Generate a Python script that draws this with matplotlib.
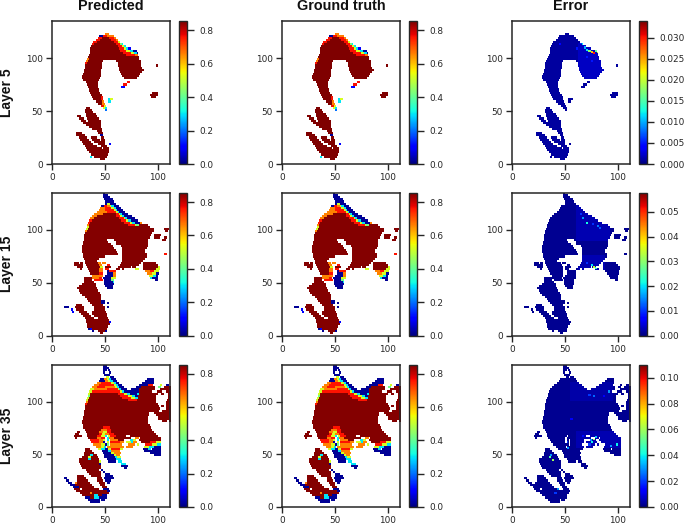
import numpy as np
import matplotlib
matplotlib.use("Agg")
import matplotlib.pyplot as plt

COLUMN_TITLES = ["Predicted", "Ground truth", "Error"]
ROW_TITLES = ["Layer 5", "Layer 15", "Layer 35"]
GRID_WIDTH = 112
GRID_HEIGHT = 135
FIELD_MAX = [0.852, 0.856, 0.854]
ERROR_MAX = [0.0339, 0.0577, 0.110]
ERROR_TICKS = [[0, .005, .01, .015, .02, .025, .03], [0, .01, .02, .03, .04, .05], [0, .02, .04, .06, .08, .10]]
ERROR_LABELS = [["0.000", "0.005", "0.010", "0.015", "0.020", "0.025", "0.030"],
                ["0.00", "0.01", "0.02", "0.03", "0.04", "0.05"],
                ["0.00", "0.02", "0.04", "0.06", "0.08", "0.10"]]
LEVELS = dict(d=0.85, r=0.76, o=0.66, y=0.52, g=0.42, c=0.30, l=0.2, m=0.1, b=0.02)

# Each row: lower y of a two-unit band -> "x0-x1 level" runs
LAYER5 = {
122: "50-54o", 120: "44-48b 48-52r 52-58o", 118: "43-47r 47-54d 54-58r 58-60o", 116: "41-45r 45-56d 56-60r 60-62o",
114: "39-42r 42-58d 58-62r 62-64y", 112: "38-40r 40-60d 60-64r 64-66g 66-67c", 110: "37-62d 62-66r 66-68y 68-70c",
108: "36-63d 63-68r 68-70y 70-72c 72-74m", 106: "36-64d 64-70r 70-73y 73-76c 76-80b", 104: "36-67d 67-74r 74-77y 77-80c 80-81b",
102: "35-70d 70-78r 78-81o", 100: "34-82d", 98: "33-35o 35-82d", 96: "32-34o 34-48d 60-84d",
94: "31-33r 33-47d 62-84d", 92: "31-47d 62-84d 98-100d", 90: "31-47d 63-85d", 88: "30-46d 63-87d", 86: "30-46d 64-85d",
84: "29-46d 65-83d", 82: "28-46d 66-82d", 80: "28-45d 68-80d", 78: "29-44d", 76: "32-43d 71-73r", 74: "33-43d 67-71r",
72: "34-43d 65-69m", 70: "35-44d", 68: "35-44d", 66: "36-45d 94-100d", 64: "37-47d 92-100d", 62: "38-46d 46-48r 93-98d",
60: "39-46d 46-48r 53-55c 55-57y", 58: "41-47d 47-49o 53-56c", 56: "43-47d 47-50o", 54: "46-49r 49-51y", 52: "32-36d 48-50y 50-52c", 50: "31-38d 50-52l",
48: "31-39d", 46: "32-41d", 44: "24-27d 32-42d", 42: "25-30d 33-44d", 40: "27-32d 34-46d", 38: "29-35d 35-46d",
36: "32-46d", 34: "35-46d", 32: "38-47d", 30: "42-47d", 28: "23-28d 43-48d", 26: "23-31d 45-48b", 24: "25-33d 37-42d 46-49d",
22: "26-35d 38-45d 46-50d", 20: "28-37d 40-50d", 18: "29-39d 43-50d 54-56m", 16: "31-42d 46-52d", 14: "32-47d 48-54d", 12: "33-54d",
10: "35-54d", 8: "37-53d", 6: "36-38c 40-52d", 4: "45-50d",
}

LAYER15 = {
134: "48-50b", 132: "48-53b", 130: "48-55b", 128: "49-57b", 126: "50-58b", 124: "50-52b 52-55y 55-60b",
122: "46-49b 49-52r 52-55o 55-56y 56-58c 58-63b", 120: "45-50o 50-56r 56-58y 58-60c 60-65b", 118: "44-50o 50-58r 58-60y 60-61c 61-67b",
116: "42-52o 52-60r 60-62y 62-63c 63-69b", 114: "40-48o 48-60d 60-63r 63-64y 64-66c 66-72b", 112: "38-42o 42-60d 60-64r 64-66y 66-68c 68-75b",
110: "36-40o 40-63d 63-68r 68-69y 69-71c 71-78b", 108: "35-38r 38-65d 65-70r 70-72y 72-74c 74-81b", 106: "34-36r 36-68d 68-73r 73-75y 75-78c 78-83b 83-85o",
104: "33-35o 35-72d 72-78r 78-79y 79-82g 82-90d", 102: "33-35y 35-92d", 100: "32-34y 34-96d 105-110d", 98: "31-33o 33-96d 106-109d",
96: "31-94d", 94: "30-93d 96-103d", 92: "30-92d 96-102d 105-108d", 90: "30-52d 58-90d 104-107d", 88: "29-53d 60-90d", 86: "29-56d 60-90d",
84: "28-57d 65-90d", 82: "28-58d 66-89d", 80: "28-60d 66-88d", 78: "28-61d 66-88d", 76: "29-62d 66-89d 105-108r", 74: "29-50d 66-89d",
72: "30-44d 66-88d", 70: "31-42d 66-86d", 68: "21-25d 26-29d 31-43d 43-46o 47-51o 65-84d 86-98d", 66: "21-29d 32-44d 44-47o 52-55r 64-82d 86-100d",
64: "24-29d 33-45d 45-48y 50-56d 62-68d 68-74d 75-79d 86-100d 100-102y", 62: "26-28d 34-44d 44-48o 50-54r 60-64d 66-68d 78-82y 86-98d 98-102y",
60: "35-44d 44-48o 52-54b 54-60r 88-92o 92-96r 96-101y", 58: "36-44d 44-48r 52-57b 57-60o 89-94o 94-98y 98-101b",
56: "38-48o 50-57b 57-60o 91-95y 95-98c 98-100b", 54: "30-38d 38-44o 44-47r 48-56b 56-60y 92-94c 94-100b", 52: "30-38d 40-48r 49-56b 56-58g 97-100b", 50: "30-40d 49-57b 57-58c",
48: "28-38d 38-41d 49-58b", 46: "25-41d 50-57b", 44: "24-42d 52-57b", 42: "25-43d", 40: "26-45d", 38: "28-46d", 36: "31-46d",
34: "33-46d", 32: "34-46d 46-50b", 30: "36-46d 46-50b 52-54b", 28: "23-28d 38-48d", 26: "11-16b 22-30d 40-50d 52-54b",
24: "18-20m 23-30d 40-50d", 22: "19-21m 25-33d 38-51d", 20: "27-35d 38-52d", 18: "29-37d 40-52d", 16: "31-40d 43-53d",
14: "32-54d", 12: "32-54d 54-56m", 10: "33-55d", 8: "33-53d", 6: "34-36b 36-38m 38-52d", 4: "38-40b 43-50d 50-52b", 2: "45-48d",
}

LAYER35 = {
134: "48-51b", 132: "48-52b", 130: "48-54b", 128: "48-52b 53-55b", 126: "48-50b 54-56b", 124: "49-55b", 122: "51-54y 55-58b",
120: "45-49b 49-52o 52-54y 54-56c 56-60b 89-96b", 118: "44-50b 50-53o 53-55y 55-57c 57-61b 88-96b", 116: "42-46o 46-56r 56-58y 58-60c 60-63b 85-96b",
114: "40-44o 44-58r 58-60y 60-62c 62-66b 82-90b 90-95r 102-104y 107-110b", 112: "38-42o 42-50r 50-59o 59-61y 61-63c 63-68b 79-84b 84-97d 100-103g 105-112d",
110: "36-40y 40-52o 52-62r 62-63y 63-65c 65-71b 74-82b 82-97d 102-112d", 108: "35-38y 38-50r 50-64r 64-66y 66-68c 68-78b 78-82b 82-94d 99-104d 107-112d",
106: "34-36y 36-62d 62-68r 68-71y 71-73c 73-80b 80-82c 82-100d 103-105d 109-112d", 104: "34-36g 36-64d 64-72r 72-75y 75-78c 78-81b 81-98d 109-112d",
102: "33-35y 35-66d 66-74r 74-78y 78-81c 81-98d 109-112d", 100: "32-34y 34-72d 72-80r 80-98d 108-112d", 98: "32-34o 34-98d 107-112d", 96: "31-33r 33-100d 107-112d",
94: "31-101d 103-105d 107-112d", 92: "31-102d 107-112d", 90: "30-101d 104-112d", 88: "30-91d 96-112d", 86: "30-91d 98-112d", 84: "29-90d 100-112d",
82: "29-90d 100-112d", 80: "28-90d 104-108d 110-112d", 78: "28-90d", 76: "29-92d", 74: "29-48d 48-55r 55-93d", 72: "31-46d 46-52o 52-56r 56-94d",
70: "24-26d 32-44d 44-48o 48-52y 52-56r 56-96d", 68: "22-25d 33-44d 44-47r 47-50y 50-54o 54-58r 58-98d", 66: "21-28d 33-42d 42-46r 46-50y 50-52c 53-55y 55-60r 60-70d 73-100d",
64: "22-24d 34-42d 42-46o 46-50r 52-54c 54-58o 58-74d 78-82o 83-103d", 62: "36-44r 44-48o 48-50y 52-54c 55-62o 62-68d 73-76c 76-79y 82-103d",
60: "37-44r 44-48o 48-50b 52-54y 55-64r 64-68o 70-74y 74-76c 76-80o 84-92d 92-98r 98-103y", 58: "39-46o 46-50y 50-52b 52-54g 55-66o 72-78o 80-82y 88-94r 94-99y 99-103c",
56: "41-46o 46-49y 49-51c 52-55o 55-68o 70-74o 74-76o 87-91y 91-96c 96-103b", 54: "31-36d 43-46y 46-50c 50-53b 53-56y 56-64r 64-67y 86-90b 90-93c 94-103b",
52: "31-38d 47-53b 53-56c 56-64o 87-95b 95-103b", 50: "30-40d 48-56b 56-58y 58-65o 92-103b", 48: "30-36d 36-39c 39-42d 49-58b 58-60y 60-64o 96-103b",
46: "28-34d 34-37y 37-43d 49-59b 59-61c 61-65y", 44: "25-34d 34-37c 37-44d 52-60b 60-62c 62-65c", 42: "25-36d 36-44d 44-46y 53-60b 62-66c", 40: "26-44d 44-46b 65-70c",
38: "27-46d 65-72b", 36: "28-46d 68-71b", 34: "32-44d 46-48b", 32: "33-46d 48-50b", 30: "35-46d 50-55b", 28: "24-30d 37-46d 50-57b",
26: "11-14b 24-32d 42-47d 49-58b", 24: "13-16b 24-34d 42-48d 50-56b", 22: "15-19b 22-24o 24-36d 44-50d 52-55b", 20: "17-22b 22-24d 24-38d 45-50d",
18: "20-25b 25-40d 47-52d", 16: "21-26d 28-44d 48-54b", 14: "23-46d 46-52d 52-55b", 12: "26-36d 36-38o 38-48d 48-54d", 10: "28-34d 34-40d 40-43c 43-47d 47-52b",
8: "31-36b 36-40d 40-44c 44-52b", 6: "34-45b 46-50b", 4: "36-45b",
}

# Local error levels: (x, y, value)
ERROR_SPOTS_5 = [(76, 104, .030), (74, 105, .024), (72, 106, .018), (70, 107, .012), (78, 106, .016), (80, 105, .020), (68, 109, .010), (66, 112, .012),
                 (64, 113, .006), (60, 108, .005), (70, 100, .005), (74, 96, .005), (44, 112, .004), (34, 8, .007)]
ERROR_SPOTS_15 = [(76, 64, .034), (74, 66, .020), (78, 63, .024), (70, 68, .010), (66, 110, .016), (70, 106, .022), (80, 103, .014), (64, 114, .010), (75, 105, .010), (82, 101, .012)]
ERROR_SPOTS_35 = [(35, 46, .05), (38, 43, .06), (36, 48, .03), (76, 63, .06), (74, 60, .04), (78, 65, .035), (73, 62, .03), (72, 58, .02), (98, 58, .04), (92, 57, .03),
                  (76, 104, .025), (72, 105, .02), (86, 104, .012), (90, 108, .03), (40, 12, .02), (42, 16, .03), (51, 60, .02), (52, 55, .03), (66, 66, .015), (55, 82, .012)]
ERROR_BASE = [0.001, 0.001, 0.002]
# Wider areas of raised error: x0, x1, y0, y1, value
ERROR_ZONES = [[(62, 88, 80, 114, .002)], [(60, 92, 90, 125, .0025), (62, 88, 62, 76, .0025)], [(60, 112, 56, 72, .005), (55, 95, 100, 118, .004)]]

LAYERS = [LAYER5, LAYER15, LAYER35]
SPOTS = [ERROR_SPOTS_5, ERROR_SPOTS_15, ERROR_SPOTS_35]


def field(rows):
    grid = np.full((GRID_HEIGHT, GRID_WIDTH), np.nan)
    for y, text in rows.items():
        for run in text.split():
            x0, rest = run.split("-")
            x1, level = int(rest[:-1]), rest[-1]
            grid[y:y + 2, int(x0):x1] = LEVELS[level]
    return grid


def error(rows, spots, zones, base):
    mask = field(rows)
    grid = np.full(mask.shape, base)
    for x0, x1, y0, y1, value in zones:
        grid[y0:y1, x0:x1] = value
    for x, y, value in spots:
        grid[y:y + 2, x:x + 2] = value
    grid[np.isnan(mask)] = np.nan
    return grid


DPI = 100
W, H = 685, 527
fig = plt.figure(figsize=(W / DPI, H / DPI), dpi=DPI)
COL_X = [(51.7, 170.3, 179.3, 187.3), (281.7, 400.3, 409.3, 417.3), (511.7, 630.3, 639.3, 647.3)]
ROW_Y = [(21.3, 164), (192.7, 335.7), (364.7, 507)]
INK = "#262626"
TICK = dict(labelsize=6.4, length=4, width=1, colors=INK, pad=2.5)


def rect(x0, x1, y0, y1):
    return [x0 / W, 1 - y1 / H, (x1 - x0) / W, (y1 - y0) / H]


for r, (rows, spots) in enumerate(zip(LAYERS, SPOTS)):
    pred = field(rows)
    err = error(rows, spots, ERROR_ZONES[r], ERROR_BASE[r])
    for c in range(3):
        x0, x1, cx0, cx1 = COL_X[c]
        y0, y1 = ROW_Y[r]
        ax = fig.add_axes(rect(x0, x1, y0, y1))
        data = err if c == 2 else pred
        vmax = ERROR_MAX[r] if c == 2 else FIELD_MAX[r]
        im = ax.imshow(data, origin="lower", cmap="jet", vmin=0, vmax=vmax, aspect="auto",
                       interpolation="nearest", extent=(0, GRID_WIDTH, 0, GRID_HEIGHT))
        ax.set_xticks([0, 50, 100])
        ax.set_yticks([0, 50, 100])
        ax.tick_params(**TICK)
        for s in ax.spines.values():
            s.set_linewidth(1.1)
            s.set_color(INK)
        cax = fig.add_axes(rect(cx0, cx1, y0, y1))
        cb = fig.colorbar(im, cax=cax)
        if c == 2:
            cb.set_ticks(ERROR_TICKS[r], labels=ERROR_LABELS[r])
        else:
            cb.set_ticks([0, .2, .4, .6, .8], labels=["0.0", "0.2", "0.4", "0.6", "0.8"])
        cax.tick_params(**{**TICK, "length": 5, "pad": 4})
        cb.outline.set_linewidth(1.0)
        cb.outline.set_edgecolor(INK)
        if r == 0:
            fig.text((x0 + x1) / 2 / W, 1 - 6 / H, COLUMN_TITLES[c], ha="center", va="center",
                     family="Liberation Sans", fontweight="bold", fontsize=10.4, color="#111111")
        if c == 0:
            fig.text(7 / W, 1 - (y0 + y1) / 2 / H, ROW_TITLES[r], ha="center", va="center", rotation=90,
                     family="Liberation Sans", fontweight="bold", fontsize=10, color="#111111")

fig.savefig("out.png", dpi=DPI)
